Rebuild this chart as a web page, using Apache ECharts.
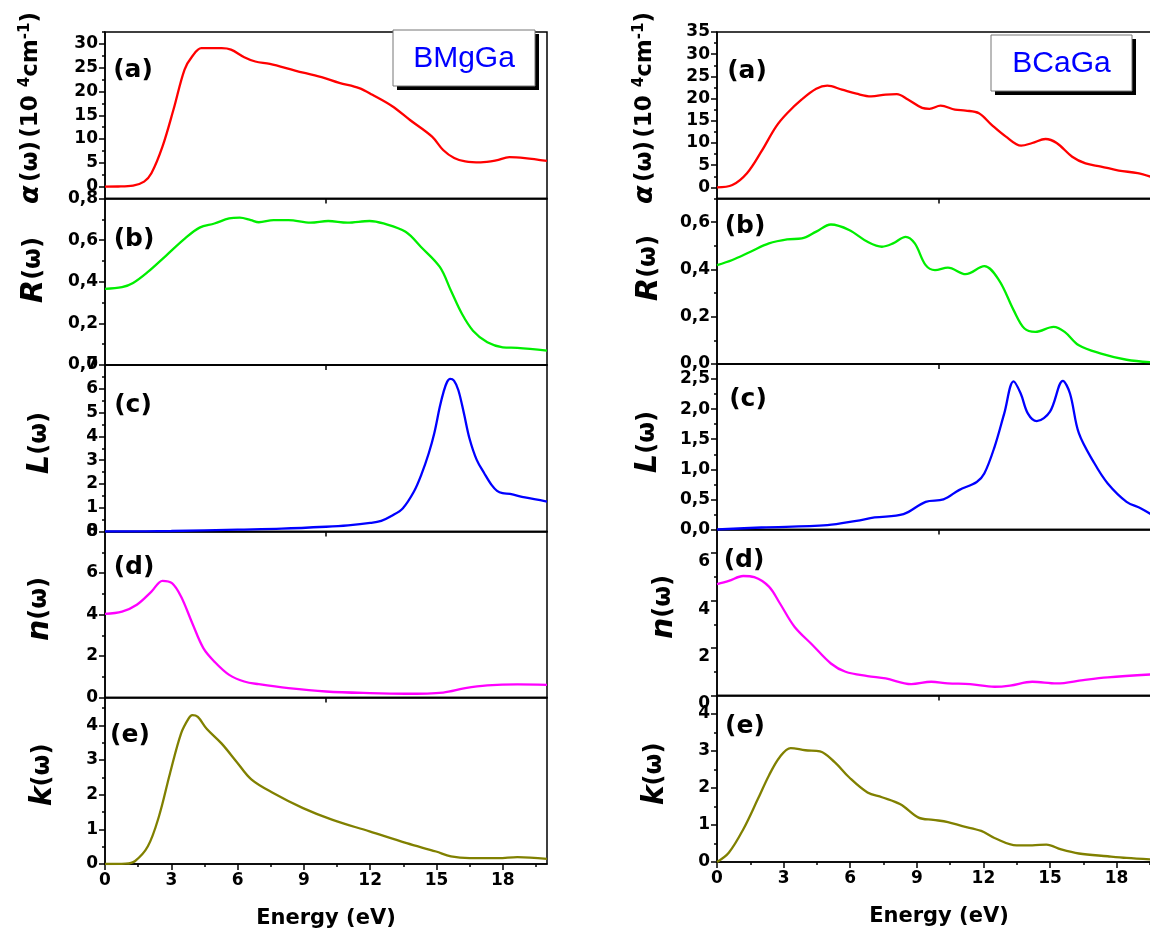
<!DOCTYPE html>
<html>
<head>
<meta charset="utf-8">
<script src="https://cdn.jsdelivr.net/npm/echarts@6/dist/echarts.min.js"></script>
<style>
  html, body { margin: 0; padding: 0; background: #fff; }
  #chart { width: 1150px; height: 932px; }
</style>
</head>
<body>
<div id="chart"></div>
<script>
// ---- BMgGa (left column), [energy eV, value] ----
const mgAlpha = [[0,0],[0.6,0.02],[1.27,0.2],[1.77,1.05],[2.1,2.8],[2.6,8.4],[3.1,16.2],[3.6,24.6],[3.95,27.4],[4.36,29.1],[5.28,29.1],[5.7,28.8],[6.3,27.2],[6.8,26.3],[7.46,25.8],[8.6,24.4],[9.8,23.0],[10.6,21.8],[11.5,20.7],[12.1,19.3],[13.0,16.9],[13.8,14.0],[14.8,10.5],[15.3,7.7],[15.8,6.0],[16.3,5.3],[17.0,5.1],[17.7,5.5],[18.3,6.2],[19.0,6.0],[20,5.4]];
const mgR = [[0,0.366],[0.77,0.374],[1.27,0.394],[1.94,0.447],[2.78,0.527],[3.61,0.607],[4.28,0.66],[4.95,0.68],[5.62,0.704],[6.1,0.708],[6.6,0.696],[6.96,0.686],[7.63,0.696],[8.3,0.696],[9.3,0.684],[10.1,0.692],[10.97,0.684],[11.97,0.692],[12.6,0.68],[13.6,0.64],[14.3,0.567],[15.15,0.471],[15.65,0.358],[16.15,0.246],[16.65,0.165],[17.3,0.109],[18.0,0.085],[18.66,0.082],[20,0.069]];
const mgL = [[0,0],[3,0.02],[6,0.08],[8,0.12],[10,0.2],[11,0.26],[12,0.36],[12.5,0.45],[12.98,0.66],[13.48,0.98],[13.98,1.68],[14.31,2.38],[14.65,3.29],[14.9,4.13],[15.15,5.24],[15.32,5.87],[15.48,6.29],[15.62,6.42],[15.79,6.34],[15.99,5.94],[16.24,4.97],[16.49,3.92],[16.82,3.01],[17.16,2.45],[17.49,1.96],[17.74,1.71],[17.99,1.61],[18.33,1.58],[19.0,1.43],[20,1.26]];
const mgN = [[0,4.03],[0.77,4.14],[1.44,4.47],[2.1,5.1],[2.6,5.62],[3.03,5.51],[3.44,4.87],[3.95,3.58],[4.45,2.38],[4.95,1.73],[5.62,1.09],[6.3,0.77],[6.96,0.64],[8.3,0.45],[10,0.29],[12,0.21],[13.6,0.18],[15.3,0.24],[16.3,0.45],[17.3,0.58],[18.66,0.63],[20,0.61]];
const mgK = [[0,0],[0.94,0.01],[1.35,0.08],[1.94,0.51],[2.44,1.37],[2.94,2.61],[3.44,3.76],[3.78,4.19],[3.95,4.29],[4.2,4.24],[4.6,3.9],[5.28,3.47],[5.95,2.95],[6.62,2.44],[7.63,2.04],[8.96,1.61],[10.3,1.27],[11.97,0.94],[13.65,0.6],[14.98,0.36],[15.65,0.22],[16.5,0.17],[17.8,0.17],[18.66,0.2],[20,0.15]];

// ---- BCaGa (right column) ----
const caAlpha = [[0,0],[0.69,0.53],[1.35,3.2],[2.0,8.1],[2.66,13.7],[3.16,16.7],[3.82,19.8],[4.47,22.2],[4.97,22.9],[5.63,22.0],[6.28,21.1],[6.94,20.5],[7.6,20.9],[8.1,21.0],[8.6,19.8],[9.24,17.9],[9.57,17.7],[10.07,18.4],[10.72,17.5],[11.2,17.3],[11.8,16.7],[12.37,14.1],[13.0,11.5],[13.7,9.4],[14.2,10.0],[14.8,10.9],[15.3,10.0],[16.0,6.9],[16.6,5.4],[17.3,4.7],[18.1,3.8],[18.95,3.2],[19.6,2.3]];
const caR = [[0,0.418],[0.69,0.44],[1.51,0.475],[2.34,0.51],[3.16,0.527],[3.82,0.531],[4.47,0.56],[5.13,0.59],[5.95,0.567],[6.78,0.517],[7.43,0.496],[7.93,0.51],[8.5,0.538],[8.91,0.51],[9.4,0.418],[9.82,0.397],[10.4,0.408],[11.2,0.38],[12.04,0.414],[12.7,0.355],[13.36,0.228],[13.85,0.15],[14.34,0.136],[15.16,0.157],[15.66,0.136],[16.3,0.079],[17.3,0.044],[18.45,0.018],[19.6,0.007]];
const caL = [[0,0],[2.0,0.033],[4.97,0.072],[6.28,0.144],[7.1,0.2],[8.4,0.255],[9.4,0.46],[10.2,0.5],[10.9,0.654],[11.7,0.79],[12.04,0.93],[12.5,1.37],[12.94,1.93],[13.36,2.46],[13.68,2.26],[14.0,1.93],[14.4,1.8],[15.0,1.96],[15.58,2.47],[15.9,2.26],[16.3,1.6],[17.0,1.1],[17.6,0.765],[18.45,0.46],[19.1,0.35],[19.6,0.24]];
const caN = [[0,4.7],[0.53,4.83],[1.18,5.04],[1.68,4.99],[2.34,4.59],[2.83,3.89],[3.49,2.9],[4.3,2.13],[5.13,1.35],[5.79,1.0],[6.78,0.82],[7.6,0.72],[8.75,0.48],[9.65,0.58],[10.4,0.51],[11.4,0.48],[12.5,0.37],[13.2,0.42],[14.2,0.58],[15.3,0.51],[16.5,0.65],[17.6,0.76],[19.6,0.89]];
const caK = [[0,0],[0.53,0.25],[1.18,0.88],[1.84,1.7],[2.34,2.34],[2.83,2.84],[3.32,3.08],[3.98,3.02],[4.64,2.99],[5.3,2.7],[5.95,2.29],[6.78,1.88],[7.43,1.75],[8.26,1.56],[9.08,1.2],[9.74,1.14],[10.4,1.08],[11.05,0.97],[11.9,0.84],[12.5,0.65],[13.5,0.45],[14.2,0.45],[14.84,0.47],[15.5,0.34],[16.3,0.23],[17.6,0.155],[18.45,0.11],[19.6,0.065]];

// ---- tick labels ----
const energyTicks = [0, 3, 6, 9, 12, 15, 18];
const energyMinor = [1.5, 4.5, 7.5, 10.5, 13.5, 16.5, 19.5];
const mgAlphaTicks = [0, 5, 10, 15, 20, 25, 30];
const mgRTicks = [0, 0.2, 0.4, 0.6, 0.8];
const mgLTicks = [0, 1, 2, 3, 4, 5, 6, 7];
const mgNTicks = [0, 2, 4, 6, 8];
const mgKTicks = [0, 1, 2, 3, 4];
const caAlphaTicks = [0, 5, 10, 15, 20, 25, 30, 35];
const caRTicks = [0, 0.2, 0.4, 0.6];
const caLTicks = [0, 0.5, 1, 1.5, 2, 2.5];
const caNTicks = [0, 2, 4, 6];
const caKTicks = [0, 1, 2, 3, 4];

const materials = ['BMgGa', 'BCaGa'];
const panelTags = ['(a)', '(b)', '(c)', '(d)', '(e)'];

const FONT = 'DejaVu Sans';
const colLeft = [105, 717];
const colWidth = [442, 444];
const rowEdges = [[32, 198.5, 365, 531.5, 697.5, 864], [32, 198.5, 364, 529.5, 695.5, 862]];

const panels = [
  {col: 0, row: 0, data: mgAlpha, color: '#ff0000', min: -2.5, max: 32.5, ticks: mgAlphaTicks, minor: 2.5, dec: 0, title: 'a', tpos: [31, 108], lpos: [133, 70]},
  {col: 0, row: 1, data: mgR, color: '#00ee00', min: 0, max: 0.8, ticks: mgRTicks, minor: 0.1, dec: 1, title: 'R', tpos: [34, 270], lpos: [134, 239]},
  {col: 0, row: 2, data: mgL, color: '#0000ff', min: 0, max: 7, ticks: mgLTicks, minor: 0.5, dec: 0, title: 'L', tpos: [40, 443], lpos: [133, 405]},
  {col: 0, row: 3, data: mgN, color: '#ff00ff', min: 0, max: 8, ticks: mgNTicks, minor: 1, dec: 0, title: 'n', tpos: [40, 609], lpos: [134, 567]},
  {col: 0, row: 4, data: mgK, color: '#808000', min: 0, max: 4.8, ticks: mgKTicks, minor: 0.5, dec: 0, title: 'k', tpos: [43, 775], lpos: [130, 735]},
  {col: 1, row: 0, data: caAlpha, color: '#ff0000', min: -2.5, max: 35, ticks: caAlphaTicks, minor: 2.5, dec: 0, title: 'a', tpos: [645, 108], lpos: [747, 71]},
  {col: 1, row: 1, data: caR, color: '#00ee00', min: 0, max: 0.7, ticks: caRTicks, minor: 0.1, dec: 1, title: 'R', tpos: [649, 268], lpos: [745, 226]},
  {col: 1, row: 2, data: caL, color: '#0000ff', min: 0, max: 2.75, ticks: caLTicks, minor: 0.25, dec: 1, title: 'L', tpos: [648, 442], lpos: [748, 399]},
  {col: 1, row: 3, data: caN, color: '#ff00ff', min: 0, max: 7, ticks: caNTicks, minor: 1, dec: 0, title: 'n', tpos: [664, 607], lpos: [744, 560], labelLow: true},
  {col: 1, row: 4, data: caK, color: '#808000', min: 0, max: 4.5, ticks: caKTicks, minor: 0.5, dec: 0, title: 'k', tpos: [655, 774], lpos: [745, 726]}
];

function minorValues(p) {
  const out = [];
  const k0 = Math.ceil(p.min / p.minor - 1e-9);
  const k1 = Math.floor(p.max / p.minor + 1e-9);
  for (let k = k0; k <= k1; k++) {
    const v = +(k * p.minor).toFixed(6);
    if (!p.ticks.some(t => Math.abs(t - v) < 1e-9)) out.push(v);
  }
  return out;
}

const black = {color: '#000', width: 1.5};
const tickText = {color: '#000', fontFamily: FONT, fontWeight: 'bold', fontSize: 17};

const grid = [], xAxis = [], yAxis = [], series = [], graphic = [];

panels.forEach((p, i) => {
  const top = rowEdges[p.col][p.row];
  const bottom = rowEdges[p.col][p.row + 1];
  const isBottom = p.row === 4;
  grid.push({
    left: colLeft[p.col], width: colWidth[p.col], top: top, height: bottom - top,
    show: true, borderColor: '#000', borderWidth: 1.5, backgroundColor: 'transparent',
    containLabel: false, outerBoundsMode: 'none'
  });

  xAxis.push({
    type: 'value', gridIndex: i, min: 0, max: 20, position: 'bottom',
    axisLine: {show: true, onZero: false, lineStyle: black},
    axisTick: {show: true, customValues: isBottom ? energyTicks : [10], length: isBottom ? 6 : 5, lineStyle: black},
    axisLabel: {show: isBottom, customValues: energyTicks, margin: 8, ...tickText},
    splitLine: {show: false},
    name: isBottom ? 'Energy (eV)' : '',
    nameLocation: 'middle', nameGap: 44,
    nameTextStyle: {color: '#000', fontFamily: FONT, fontWeight: 'bold', fontSize: 21}
  });

  yAxis.push({
    type: 'value', gridIndex: i, min: p.min, max: p.max, position: 'left',
    axisLine: {show: true, onZero: false, lineStyle: black},
    axisTick: {show: true, customValues: p.ticks, length: 6, lineStyle: black},
    axisLabel: {
      customValues: p.ticks, margin: 7, ...tickText,
      verticalAlign: p.labelLow ? 'top' : 'middle',
      formatter: v => p.dec ? v.toFixed(p.dec).replace('.', ',') : String(v)
    },
    splitLine: {show: false}
  });
  // minor ticks on an overlaid axis
  yAxis.push({
    type: 'value', gridIndex: i, min: p.min, max: p.max, position: 'left',
    axisLine: {show: false},
    axisTick: {show: true, customValues: minorValues(p), length: 3, lineStyle: black},
    axisLabel: {show: false},
    splitLine: {show: false}
  });

  series.push({
    type: 'line', xAxisIndex: i, yAxisIndex: 2 * i, data: p.data,
    showSymbol: false, smooth: 0.35, clip: true,
    lineStyle: {color: p.color, width: 2.3}, itemStyle: {color: p.color}
  });

  graphic.push({
    type: 'text', x: p.lpos[0], y: p.lpos[1], z: 100,
    style: {text: panelTags[p.row], fill: '#000', font: 'bold 25px "' + FONT + '"', align: 'center', verticalAlign: 'middle'}
  });

  const rich = {
    i: {fontFamily: FONT, fontWeight: 'bold', fontStyle: 'italic', fontSize: 30, fill: '#000'},
    n: {fontFamily: FONT, fontWeight: 'bold', fontSize: 24, fill: '#000'},
    m: {fontFamily: FONT, fontWeight: 'bold', fontSize: 23, fill: '#000'},
    g: {fontFamily: FONT, fontWeight: 'bold', fontStyle: 'italic', fontSize: 27, fill: '#000'},
    s: {fontFamily: FONT, fontWeight: 'bold', fontSize: 15, fill: '#000', verticalAlign: 'top'}
  };
  const text = p.title === 'a'
    ? '{g|α} {m|(ω)} {m|(10 }{s|4}{m|cm}{s|-1}{m|)}'
    : '{i|' + p.title + '}{n|(ω)}';
  graphic.push({
    type: 'text', x: p.tpos[0], y: p.tpos[1], rotation: Math.PI / 2, z: 100,
    style: {text: text, rich: rich, align: 'center', verticalAlign: 'middle'}
  });
});

// bottom-axis minor ticks
[4, 9].forEach(i => {
  xAxis.push({
    type: 'value', gridIndex: i, min: 0, max: 20, position: 'bottom',
    axisLine: {show: false},
    axisTick: {show: true, customValues: energyMinor, length: 3, lineStyle: black},
    axisLabel: {show: false},
    splitLine: {show: false}
  });
});

// material legend boxes
const boxes = [{x: 393, y: 30, w: 142, h: 56}, {x: 991, y: 35, w: 141, h: 56}];
boxes.forEach((b, c) => {
  graphic.push({type: 'rect', z: 100, shape: {x: b.x + 4, y: b.y + 4, width: b.w, height: b.h}, style: {fill: '#000'}});
  graphic.push({type: 'rect', z: 101, shape: {x: b.x, y: b.y, width: b.w, height: b.h}, style: {fill: '#fff', stroke: '#777', lineWidth: 1}});
  graphic.push({
    type: 'text', z: 102, x: b.x + b.w / 2, y: b.y + b.h / 2 + 1,
    style: {text: materials[c], fill: '#0000ff', font: '30px "Liberation Sans"', align: 'center', verticalAlign: 'middle'}
  });
});

const chart = echarts.init(document.getElementById('chart'));
chart.setOption({
  animation: false,
  backgroundColor: '#fff',
  grid, xAxis, yAxis, series, graphic
});
</script>
</body>
</html>
